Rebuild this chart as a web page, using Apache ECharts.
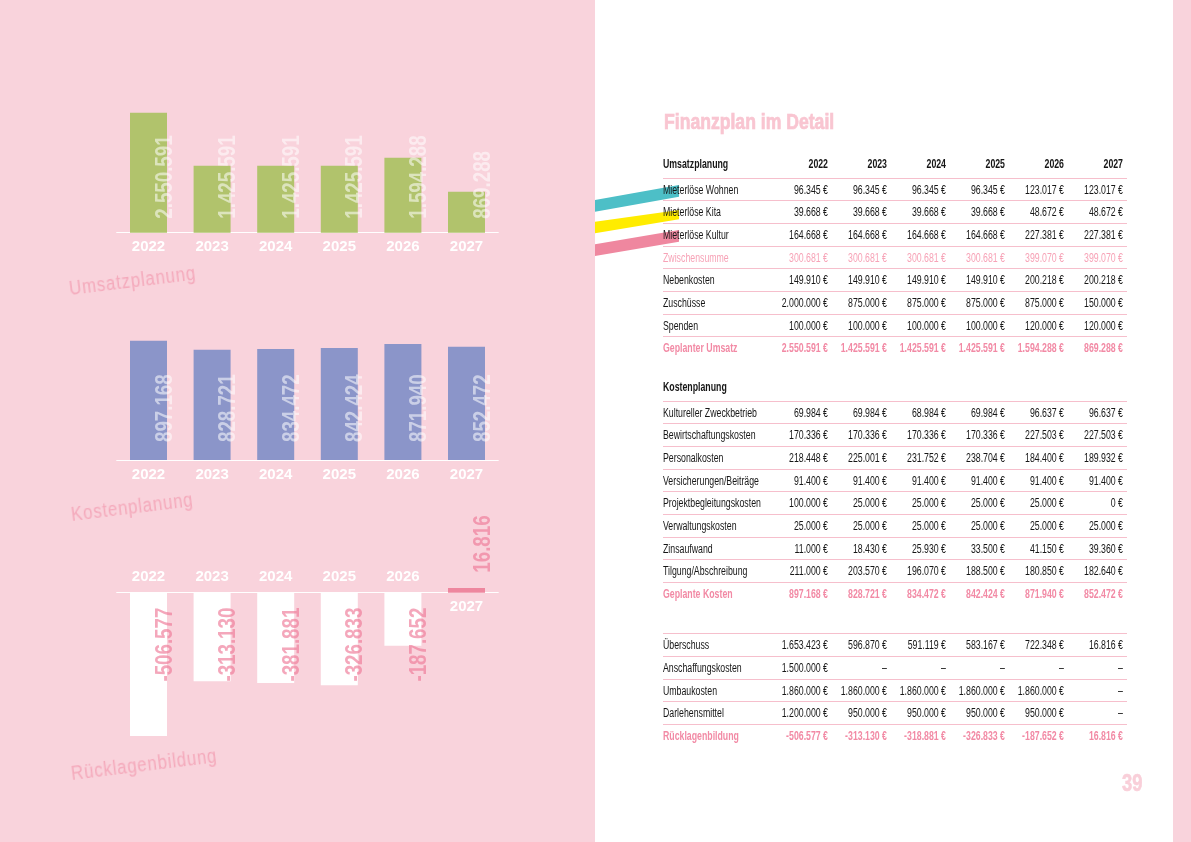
<!DOCTYPE html>
<html>
<head>
<meta charset="utf-8">
<script src="https://cdn.jsdelivr.net/npm/echarts@6/dist/echarts.min.js"></script>
<style>
html, body { margin: 0; padding: 0; }
body { width: 1191px; height: 842px; position: relative; overflow: hidden; background: #fff;
  font-family: 'Liberation Sans', Arial, sans-serif; }
#left { position: absolute; left: 0; top: 0; width: 595px; height: 842px; background: #f9d3dc; }
#strip { position: absolute; left: 1173px; top: 0; width: 18px; height: 842px; background: #f9d3dc; }
#deco { position: absolute; left: 0; top: 0; }
#chart { position: absolute; left: 0; top: 0; width: 1191px; height: 842px; }
.ctitle { position: absolute; font-size: 20px; line-height: 20px; letter-spacing: 1px; color: #f4a9bb;
  white-space: nowrap; transform-origin: 0 17px; transform: rotate(-7deg) scaleX(0.84); }
#title { position: absolute; left: 664px; top: 110.7px; font-size: 22px; line-height: 22px; font-weight: bold;
  color: #f9c5d1; white-space: nowrap; transform-origin: 0 50%; transform: scaleX(0.8);
  -webkit-text-stroke: 0.7px #f9c5d1; }
#pagenum { position: absolute; left: 1122px; top: 772px; font-size: 23px; line-height: 23px; font-weight: bold;
  color: #f9cfd9; transform-origin: 0 50%; transform: scaleX(0.8); -webkit-text-stroke: 0.6px #f9cfd9; }
.row { position: absolute; left: 663px; width: 464px; height: 22.65px; line-height: 22.65px; font-size: 12px; color: #161616; box-sizing: border-box; }
.row.line { border-top: 1px solid #f6bfcc; }
.row .c { position: absolute; top: 0; white-space: nowrap; }
.row .lab { left: 0; transform-origin: 0 50%; transform: scaleX(0.73); }
.row .num { width: 90px; text-align: right; transform-origin: 100% 50%; transform: scaleX(0.73); }
.row.bold { font-weight: bold; }
.row.pink { color: #f7a3b7; }
.row.pinkbold { color: #f28aa5; font-weight: bold; }
</style>
</head>
<body>
<div id="left"></div>
<div id="strip"></div>
<svg id="deco" width="1191" height="842">
  <polygon points="595,200 679,185 679,196.7 595,211.7" fill="#4dbfc7"/>
  <polygon points="595,221.7 679,210 679,219.3 595,233.3" fill="#ffec00"/>
  <polygon points="595,244.3 679,230 679,241.7 595,256" fill="#ef879f"/>
</svg>
<div id="chart"></div>
<div class="ctitle" style="left:70px;top:278px;">Umsatzplanung</div>
<div class="ctitle" style="left:72px;top:504px;">Kostenplanung</div>
<div class="ctitle" style="left:72px;top:763px;">Rücklagenbildung</div>
<div id="title">Finanzplan im Detail</div>
<div id="pagenum">39</div>
<div id="table"></div>
<script>
// Jahre und Werte der drei Diagramme
var years = ['2022', '2023', '2024', '2025', '2026', '2027'];
var umsatz = [2550591, 1425591, 1425591, 1425591, 1594288, 869288];
var kosten = [897168, 828721, 834472, 842424, 871940, 852472];
var ruecklage = [-506577, -313130, -318881, -326833, -187652, 16816];
// Beschriftung wie im Original (2024 steht dort als -381.881)
var ruecklageLabels = ['-506.577', '-313.130', '-381.881', '-326.833', '-187.652', '16.816'];

// Tabelle
var umsatzNames = ['Mieterlöse Wohnen', 'Mieterlöse Kita', 'Mieterlöse Kultur', 'Zwischensumme',
  'Nebenkosten', 'Zuschüsse', 'Spenden', 'Geplanter Umsatz'];
var umsatzRows = [
  [96345, 96345, 96345, 96345, 123017, 123017],
  [39668, 39668, 39668, 39668, 48672, 48672],
  [164668, 164668, 164668, 164668, 227381, 227381],
  [300681, 300681, 300681, 300681, 399070, 399070],
  [149910, 149910, 149910, 149910, 200218, 200218],
  [2000000, 875000, 875000, 875000, 875000, 150000],
  [100000, 100000, 100000, 100000, 120000, 120000],
  umsatz
];
var umsatzStyles = ['', '', '', 'pink', '', '', '', 'pinkbold'];

var kostenNames = ['Kultureller Zweckbetrieb', 'Bewirtschaftungskosten', 'Personalkosten',
  'Versicherungen/Beiträge', 'Projektbegleitungskosten', 'Verwaltungskosten', 'Zinsaufwand',
  'Tilgung/Abschreibung', 'Geplante Kosten'];
var kostenRows = [
  [69984, 69984, 68984, 69984, 96637, 96637],
  [170336, 170336, 170336, 170336, 227503, 227503],
  [218448, 225001, 231752, 238704, 184400, 189932],
  [91400, 91400, 91400, 91400, 91400, 91400],
  [100000, 25000, 25000, 25000, 25000, 0],
  [25000, 25000, 25000, 25000, 25000, 25000],
  [11000, 18430, 25930, 33500, 41150, 39360],
  [211000, 203570, 196070, 188500, 180850, 182640],
  kosten
];
var kostenStyles = ['', '', '', '', '', '', '', '', 'pinkbold'];

var bilanzNames = ['Überschuss', 'Anschaffungskosten', 'Umbaukosten', 'Darlehensmittel', 'Rücklagenbildung'];
var bilanzRows = [
  [1653423, 596870, 591119, 583167, 722348, 16816],
  [1500000, null, null, null, null, null],
  [1860000, 1860000, 1860000, 1860000, 1860000, null],
  [1200000, 950000, 950000, 950000, 950000, null],
  ruecklage
];
var bilanzStyles = ['', '', '', '', 'pinkbold'];

var FONT = "'Liberation Sans', Arial, sans-serif";

function fmt(v) {
  if (v == null) return '–';
  var s = Math.abs(v).toString().replace(/\B(?=(\d{3})+(?!\d))/g, '.');
  return (v < 0 ? '-' : '') + s;
}

// --- Tabelle aufbauen ---
var ROW_H = 22.65;
var table = document.getElementById('table');
function addRow(top, cls, label, cells) {
  var r = document.createElement('div');
  r.className = 'row ' + cls;
  r.style.top = top + 'px';
  var l = document.createElement('div');
  l.className = 'c lab';
  l.textContent = label;
  r.appendChild(l);
  cells.forEach(function (t, i) {
    var c = document.createElement('div');
    c.className = 'c num';
    // rechte Kante der Spalte bei 165 + i*59
    c.style.left = (75 + i * 59) + 'px';
    c.textContent = t;
    r.appendChild(c);
  });
  table.appendChild(r);
}
function addSection(lineY, head, headYears, names, rows, styles) {
  if (head) addRow(lineY - 25, 'bold', head, headYears ? years : []);
  names.forEach(function (n, i) {
    var cells = rows[i].map(function (v) { return v == null ? '–' : fmt(v) + ' €'; });
    addRow(lineY + i * ROW_H, 'line ' + styles[i], n, cells);
  });
}
addSection(177.7, 'Umsatzplanung', true, umsatzNames, umsatzRows, umsatzStyles);
addSection(400.7, 'Kostenplanung', false, kostenNames, kostenRows, kostenStyles);
addSection(633.3, null, false, bilanzNames, bilanzRows, bilanzStyles);

// --- Diagramme ---
var myChart = echarts.init(document.getElementById('chart'));

var xLabel = { color: '#fff', fontWeight: 'bold', fontSize: 15, fontFamily: FONT, margin: 7 };
var whiteLine = { lineStyle: { color: '#ffffff', width: 1 } };

// senkrechte, schmal gestauchte Wertbeschriftung an der Nulllinie
function labelSeries(axisIdx, values, texts, color, gapUp, gapDown) {
  return {
    type: 'custom',
    xAxisIndex: axisIdx, yAxisIndex: axisIdx,
    silent: true,
    z: 5,
    data: values.map(function (v, i) { return [i, v]; }),
    encode: { x: 0, y: 1 },
    renderItem: function (params, api) {
      var i = api.value(0), v = api.value(1);
      var base = api.coord([i, 0]);
      var neg = v < 0;
      return {
        type: 'text',
        x: base[0] + 16.5,
        y: neg ? base[1] + gapDown : base[1] - gapUp,
        rotation: Math.PI / 2,
        scaleX: 0.78,
        style: {
          text: texts[params.dataIndex],
          fill: color,
          fontSize: 24,
          fontWeight: 'bold',
          fontFamily: FONT,
          align: neg ? 'right' : 'left',
          verticalAlign: 'middle'
        }
      };
    }
  };
}

// Rücklagen-Raster: Nulllinie liegt bei max/(max-min) der Höhe
var rMin = Math.min.apply(null, ruecklage), rMax = Math.max.apply(null, ruecklage);
var rTop = 587.9, rHeight = 148.1;

var option = {
  animation: false,
  grid: [
    { left: 116.7, top: 112.7, width: 381.6, height: 120 },
    { left: 116.7, top: 340.7, width: 381.6, height: 119.3 },
    { left: 116.7, top: rTop, width: 381.6, height: rHeight },
    { left: 116.7, top: rTop, width: 381.6, height: rHeight * rMax / (rMax - rMin) }
  ],
  xAxis: [
    { gridIndex: 0, type: 'category', data: years, axisLine: whiteLine, axisTick: { show: false }, axisLabel: xLabel },
    { gridIndex: 1, type: 'category', data: years, axisLine: whiteLine, axisTick: { show: false }, axisLabel: xLabel },
    {
      gridIndex: 2, type: 'category', data: years, position: 'top',
      axisLine: { onZero: true, lineStyle: { color: '#ffffff', width: 1 } },
      axisTick: { show: false },
      axisLabel: Object.assign({}, xLabel, {
        margin: 4,
        formatter: function (v, i) { return ruecklage[i] < 0 ? v : ''; }
      })
    },
    {
      gridIndex: 3, type: 'category', data: years, position: 'bottom',
      axisLine: { show: false },
      axisTick: { show: false },
      axisLabel: Object.assign({}, xLabel, {
        formatter: function (v, i) { return ruecklage[i] >= 0 ? v : ''; }
      })
    }
  ],
  yAxis: [
    { gridIndex: 0, type: 'value', min: 0, max: Math.max.apply(null, umsatz), show: false },
    { gridIndex: 1, type: 'value', min: 0, max: Math.max.apply(null, kosten), show: false },
    { gridIndex: 2, type: 'value', min: rMin, max: rMax, show: false },
    { gridIndex: 3, type: 'value', min: 0, max: rMax, show: false }
  ],
  series: [
    {
      name: 'Umsatzplanung',
      type: 'bar',
      xAxisIndex: 0, yAxisIndex: 0,
      barWidth: 37,
      itemStyle: { color: '#b1c36c' },
      data: umsatz
    },
    {
      name: 'Kostenplanung',
      type: 'bar',
      xAxisIndex: 1, yAxisIndex: 1,
      barWidth: 37,
      itemStyle: { color: '#8b95c9' },
      data: kosten
    },
    {
      name: 'Rücklagenbildung',
      type: 'bar',
      xAxisIndex: 2, yAxisIndex: 2,
      barWidth: 37,
      data: ruecklage.map(function (v) {
        return { value: v, itemStyle: { color: v < 0 ? '#ffffff' : '#ee869e' } };
      })
    },
    labelSeries(0, umsatz, umsatz.map(fmt), 'rgba(255,255,255,0.55)', 14, 0),
    labelSeries(1, kosten, kosten.map(fmt), 'rgba(255,255,255,0.55)', 18, 0),
    labelSeries(2, ruecklage, ruecklageLabels, 'rgba(238,120,150,0.65)', 20, 15)
  ]
};

myChart.setOption(option);
</script>
</body>
</html>
